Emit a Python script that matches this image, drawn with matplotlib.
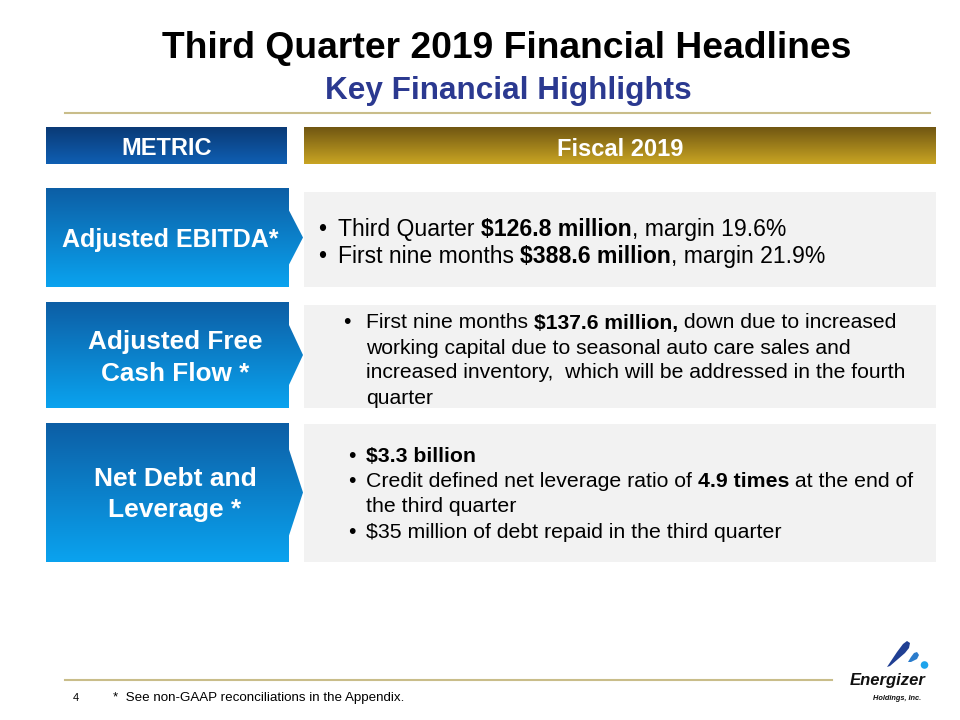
import matplotlib
matplotlib.use("Agg")
import matplotlib.pyplot as plt
import numpy as np
from matplotlib.patches import Polygon, Rectangle, Circle
from matplotlib.colors import LinearSegmentedColormap

plt.rcParams['font.family'] = ['Liberation Sans', 'DejaVu Sans']

title = "Third Quarter 2019 Financial Headlines"
subtitle = "Key Financial Highlights"
header_left = "METRIC"
header_right = "Fiscal 2019"
footnote = "*  See non-GAAP reconciliations in the Appendix."
page_no = "4"

metrics = ["Adjusted EBITDA*", "Adjusted Free\nCash Flow *", "Net Debt and\nLeverage *"]

# each bullet = list of lines, each line = list of (text, bold)
row1 = [
    [[("Third Quarter ", False), ("$126.8 million", True), (", margin 19.6%", False)]],
    [[("First nine months ", False), ("$388.6 million", True), (", margin 21.9%", False)]],
]
row2 = [
    [[("First nine months ", False), ("$137.6 million,", True), (" down due to increased", False)],
     [("working capital due to seasonal auto care sales and", False)],
     [("increased inventory,  which will be addressed in the fourth", False)],
     [("quarter", False)]],
]
row3 = [
    [[("$3.3 billion", True)]],
    [[("Credit defined net leverage ratio of ", False), ("4.9 times", True), (" at the end of", False)],
     [("the third quarter", False)]],
    [[("$35 million of debt repaid in the third quarter", False)]],
]
rows_text = [row1, row2, row3]

fig = plt.figure(figsize=(9.6, 7.2), dpi=100)
ax = fig.add_axes([0, 0, 1, 1])
ax.axis('off')
renderer = fig.canvas.get_renderer()


def gradient(patch, c_top, c_bot, x0, x1, y0, y1):
    ax.add_patch(patch)
    patch.set_facecolor('none')
    patch.set_edgecolor('none')
    cmap = LinearSegmentedColormap.from_list('g', [c_top, c_bot])
    im = ax.imshow(np.linspace(0, 1, 256).reshape(-1, 1), cmap=cmap,
                   extent=(x0, x1, y1, y0), aspect='auto', zorder=1)
    im.set_clip_path(patch)


def rich_line(x, y, parts, size):
    for txt, bold in parts:
        t = ax.text(x, y, txt, fontsize=size, fontweight='bold' if bold else 'normal',
                    va='center_baseline', ha='left', color='black', zorder=5)
        x += t.get_window_extent(renderer).width


# title
ax.text(507, 44, title, fontsize=26.8, fontweight='bold', ha='center', va='center_baseline')
ax.text(508, 87, subtitle, fontsize=22.7, fontweight='bold', ha='center',
        va='center_baseline', color='#2b3990')
ax.plot([65, 930], [113, 113], color='#c9bd8a', lw=1.5)

# headers
gradient(Rectangle((46, 127), 241, 37), '#0a3a76', '#0f5fb3', 46, 287, 127, 164)
ax.text(167, 146, header_left, fontsize=17, fontweight='bold', color='white',
        ha='center', va='center_baseline', zorder=5)
gradient(Rectangle((304, 127), 632, 37), '#705612', '#c9a523', 304, 936, 127, 164)
ax.text(620, 147, header_right, fontsize=17, fontweight='bold', color='white',
        ha='center', va='center_baseline', zorder=5)

# rows
row_box = [(188, 287), (302, 408), (423, 562)]
gray_box = [(192, 287), (305, 408), (424, 562)]
tri_half = [27, 30, 43]
label_x = [170, 175, 175]
label_dy = [2, 3, 2]
label_fs = [18, 18.8, 19]
bullet_x = [318, 343, 348]
text_x = [338, 366, 366]
line_y0 = [227, 321, 454]
line_h = [27, 25, 25.5]
body_fs = [16.6, 15.2, 15.3]

for i in range(3):
    y0, y1 = row_box[i]
    yc = (y0 + y1) / 2
    h = tri_half[i]
    pts = [(46, y0), (289, y0), (289, yc - h), (303, yc), (289, yc + h), (289, y1), (46, y1)]
    gradient(Polygon(pts, closed=True), '#0d5ea5', '#0aa3ef', 46, 303, y0, y1)
    ax.text(label_x[i], yc + label_dy[i], metrics[i], fontsize=label_fs[i], fontweight='bold',
            color='white', ha='center', va='center', linespacing=1.38, zorder=5)

    g0, g1 = gray_box[i]
    ax.add_patch(Rectangle((304, g0), 632, g1 - g0, facecolor='#f2f2f2',
                           edgecolor='none', zorder=1))
    y = line_y0[i]
    for bullet in rows_text[i]:
        ax.text(bullet_x[i], y, "\u2022", fontsize=body_fs[i], va='center_baseline',
                ha='left', zorder=5)
        for line in bullet:
            rich_line(text_x[i], y, line, body_fs[i])
            y += line_h[i]

# footer
ax.plot([65, 832], [680, 680], color='#c9bd8a', lw=1.5)
ax.text(76, 697, page_no, fontsize=8, ha='center', va='center_baseline')
ax.text(113, 697, footnote, fontsize=9.6, ha='left', va='center_baseline')

# logo
ax.add_patch(Polygon([(887, 667), (897, 652), (903, 644), (907, 641), (910, 643),
                      (909, 648), (905, 653), (890, 666)],
                     closed=True, facecolor='#203f93', edgecolor='none'))
ax.add_patch(Polygon([(908, 662), (911, 657), (914, 653), (917, 652), (919, 655),
                      (917, 659), (911, 662)],
                     closed=True, facecolor='#2b7ccc', edgecolor='none'))
ax.add_patch(Circle((924.5, 665), 3.8, facecolor='#1ea4ec', edgecolor='none'))
ax.text(888, 679, "Energizer", fontsize=12, fontweight='bold', style='italic',
        ha='center', va='center_baseline', color='#111111')
ax.text(897, 698, "Holdings, Inc.", fontsize=5.3, fontweight='bold', style='italic',
        ha='center', va='center_baseline', color='#111111')

ax.set_xlim(0, 960)
ax.set_ylim(720, 0)
fig.savefig("out.png", dpi=100)
